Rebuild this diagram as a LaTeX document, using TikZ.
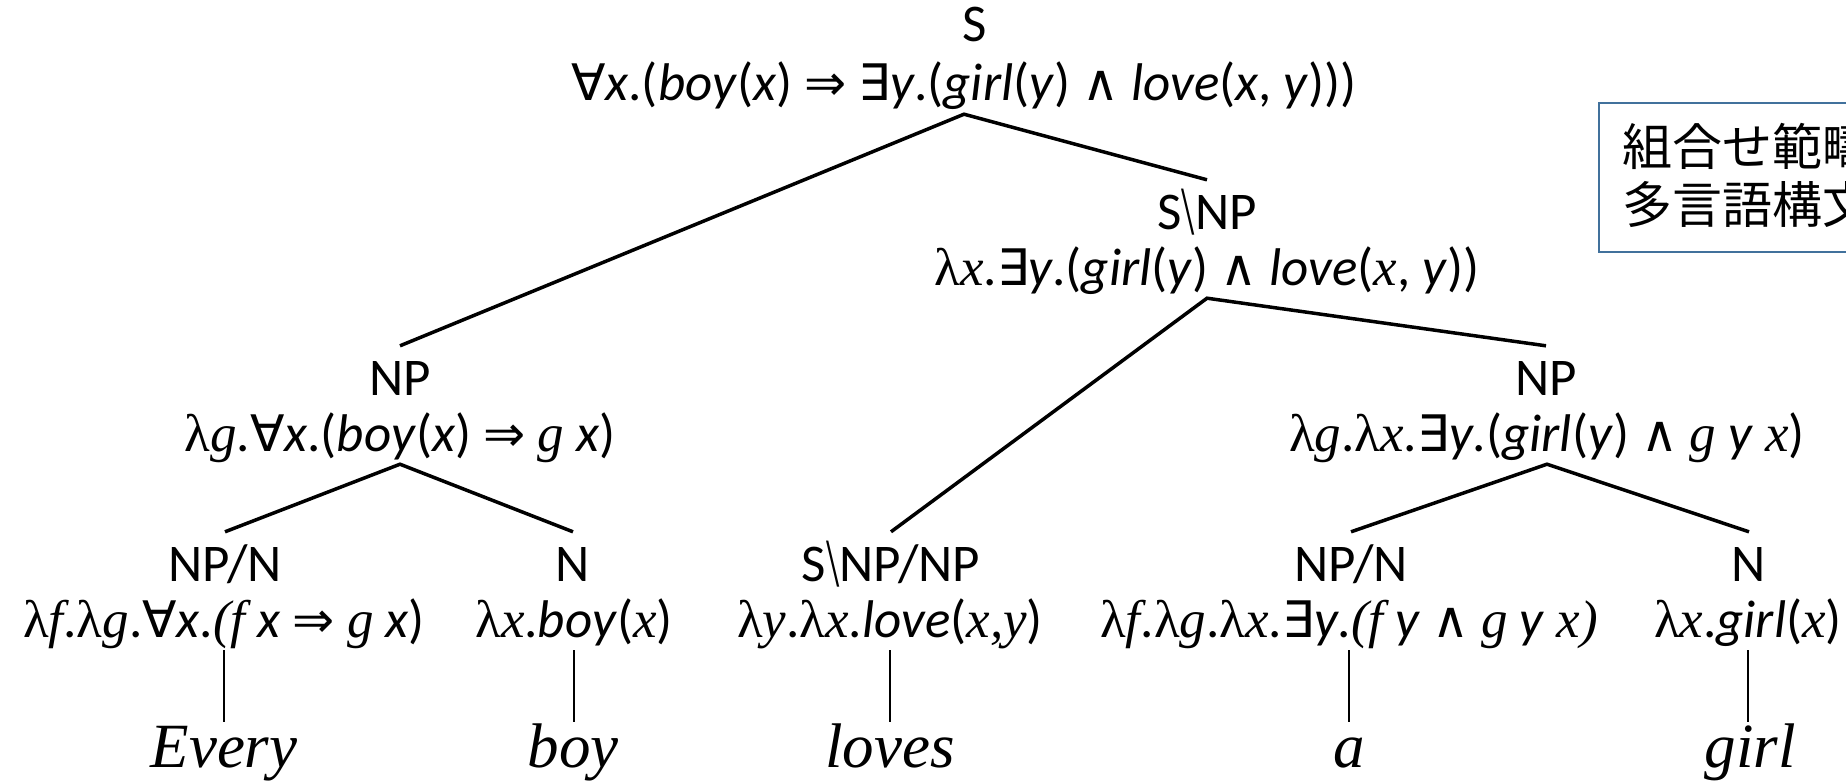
\documentclass[tikz,border=0pt]{standalone}
\usepackage{fontspec}
\usepackage{graphicx}
\setmainfont{Carlito}
\newfontfamily\TmsFont{Liberation Serif}
\newfontfamily\MySymFont[Scale=0.95]{DejaVu Sans}
\newfontfamily\CjkFont{Noto Sans CJK JP}
\newcommand\lam{{\TmsFont λ}}
\newcommand\tim[1]{{\TmsFont\itshape #1}}
\newcommand\SYM[1]{{\MySymFont #1}}
\newcommand\bsl{{\TmsFont\raisebox{-0.1em}{\scalebox{0.9}[1.3]{\textbackslash}}}}
\definecolor{boxcol}{RGB}{65,113,156}
\tikzset{
  cat/.style={anchor=base, font=\fontsize{53}{60}\selectfont, text height=34pt, text depth=0pt, inner xsep=0pt, inner ysep=15pt},
  form/.style={anchor=base, font=\fontsize{53}{60}\selectfont, text height=34pt, text depth=13pt, inner xsep=0pt, inner ysep=0pt},
  word/.style={anchor=base, font=\TmsFont\itshape\fontsize{63}{70}\selectfont, text height=44pt, text depth=0pt, inner xsep=0pt, inner ysep=1pt},
  edge/.style={line width=3.5pt},
  stem/.style={line width=2.5pt},
  jp/.style={anchor=west, font=\CjkFont\fontsize{50}{50}\selectfont, inner sep=0pt}
}
\begin{document}
\begin{tikzpicture}[x=1pt,y=-1pt]
\useasboundingbox (0,0) rectangle (1846,781);
% row 0
\node[cat] (cS) at (975,42) {S};
\node[form] (fS) at (964,101) {\SYM{∀}\textit{x}.(\textit{boy}(\textit{x}) \SYM{⇒} \SYM{∃}\textit{y}.(\textit{girl}(\textit{y}) \SYM{∧} \textit{love}(\textit{x}, \textit{y})))};
% row 1
\node[cat] (cVP) at (1207,229) {S\bsl NP};
\node[form] (fVP) at (1207,285) {\lam\tim{x}.\SYM{∃}\textit{y}.(\textit{girl}(\textit{y}) \SYM{∧} \textit{love}(\tim{x}, \textit{y}))};
% row 2
\node[cat] (cNPl) at (400,395) {NP};
\node[form] (fNPl) at (400,451) {\lam\tim{g}.\SYM{∀}\textit{x}.(\textit{boy}(\textit{x}) \SYM{⇒} \tim{g} \textit{x})};
\node[cat] (cNPr) at (1546,395) {NP};
\node[form] (fNPr) at (1547,451) {\lam\tim{g}.\lam\tim{x}.\SYM{∃}\textit{y}.(\textit{girl}(\textit{y}) \SYM{∧} \tim{g} \textit{y} \tim{x})};
% row 3
\node[cat] (cDl) at (225,581) {NP/N};
\node[form] (fDl) at (224,637) {\lam\tim{f}.\lam\tim{g}.\SYM{∀}\textit{x}.\tim{(f} \textit{x} \SYM{⇒} \tim{g} \textit{x})};
\node[cat] (cBoy) at (573,581) {N};
\node[form] (fBoy) at (574,637) {\lam\tim{x}.\textit{boy}(\tim{x})};
\node[cat] (cTV) at (891,581) {S\bsl NP/NP};
\node[form] (fTV) at (890,637) {\lam\tim{y}.\lam\tim{x}.\textit{love}(\tim{x,y})};
\node[cat] (cDr) at (1351,581) {NP/N};
\node[form] (fDr) at (1349,637) {\lam\tim{f}.\lam\tim{g}.\lam\tim{x}.\SYM{∃}\textit{y}.\tim{(f} \textit{y} \SYM{∧} \tim{g} \textit{y} \tim{x)}};
\node[cat] (cGirl) at (1749,581) {N};
\node[form] (fGirl) at (1748,637) {\lam\tim{x}.\textit{girl}(\tim{x})};
% words
\node[word] (wEvery) at (224,767) {Every};
\node[word] (wBoy) at (573,767) {boy};
\node[word] (wLoves) at (890,767) {loves};
\node[word] (wA) at (1349,767) {a};
\node[word] (wGirl) at (1750,767) {girl};
% edges
\draw[edge] (cNPl.north) -- (fS.south) -- (cVP.north);
\draw[edge] (cTV.north) -- (fVP.south) -- (cNPr.north);
\draw[edge] (cDl.north) -- (fNPl.south) -- (cBoy.north);
\draw[edge] (cDr.north) -- (fNPr.south) -- (cGirl.north);
\draw[stem] (fDl.south) -- (fDl.south |- wEvery.north);
\draw[stem] (fBoy.south) -- (fBoy.south |- wBoy.north);
\draw[stem] (fTV.south) -- (fTV.south |- wLoves.north);
\draw[stem] (fDr.south) -- (fDr.south |- wA.north);
\draw[stem] (fGirl.south) -- (fGirl.south |- wGirl.north);
% note box (cut by the right edge, as in the reference)
\begin{scope}
\clip (0,0) rectangle (1846,781);
\draw[boxcol, line width=2.5pt] (1599,103) rectangle (1900,252);
\node[jp] (jp1) at (1622,146) {組合せ範疇文法};
\node[jp] (jp2) at (1622,204) {多言語構文解析};
\end{scope}
\end{tikzpicture}
\end{document}
